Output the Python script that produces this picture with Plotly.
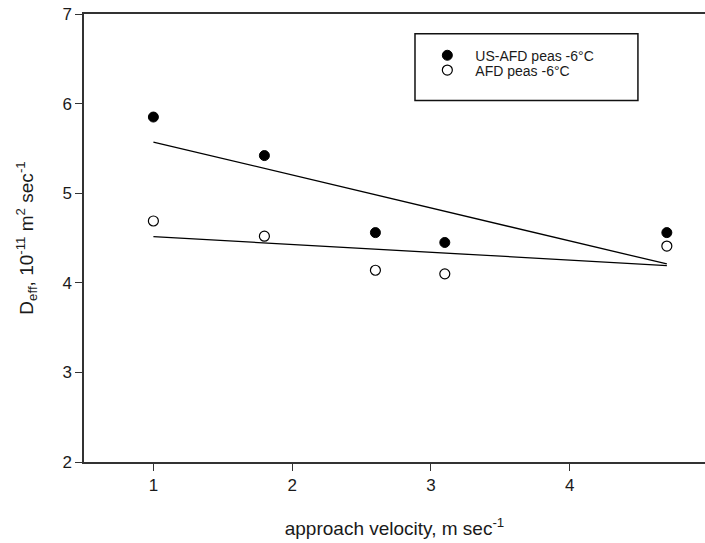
import numpy as np
import plotly.graph_objects as go

# Data
velocity = [1.0, 1.8, 2.6, 3.1, 4.7]
us_afd = [5.85, 5.42, 4.56, 4.45, 4.56]
afd = [4.69, 4.52, 4.14, 4.10, 4.41]
series_names = ["US-AFD peas -6°C", "AFD peas -6°C"]
x_ticks = [1, 2, 3, 4, 5]
y_ticks = [2, 3, 4, 5, 6, 7]

FONT = "Liberation Sans, Arial, sans-serif"
AXIS_COLOR = "#333333"
TEXT_COLOR = "#1a1a1a"


def fit_line(x, y):
    x = np.asarray(x, dtype=float)
    y = np.asarray(y, dtype=float)
    slope, intercept = np.polyfit(x, y, 1)
    xs = np.array([x.min(), x.max()])
    return xs, slope * xs + intercept


fig = go.Figure()

for yvals in (us_afd, afd):
    lx, ly = fit_line(velocity, yvals)
    fig.add_trace(go.Scatter(x=lx, y=ly, mode="lines",
                             line=dict(color="black", width=1.3),
                             showlegend=False, hoverinfo="skip"))

fig.add_trace(go.Scatter(x=velocity, y=us_afd, mode="markers", name=series_names[0],
                         legend="legend",
                         marker=dict(symbol="circle", size=10, color="black",
                                     line=dict(color="black", width=1))))
fig.add_trace(go.Scatter(x=velocity, y=afd, mode="markers", name=series_names[1],
                         legend="legend2",
                         marker=dict(symbol="circle", size=10, color="white",
                                     line=dict(color="black", width=1.2))))

legend_common = dict(xanchor="left", yanchor="middle", bgcolor="rgba(0,0,0,0)",
                     borderwidth=0, itemwidth=46,
                     font=dict(size=14, family=FONT, color=TEXT_COLOR))

fig.update_layout(
    width=705, height=543,
    margin=dict(l=84, r=0, t=14, b=81),
    paper_bgcolor="white", plot_bgcolor="white",
    font=dict(family=FONT, color=TEXT_COLOR),
    showlegend=True,
    legend=dict(x=0.54, y=0.907, **legend_common),
    legend2=dict(x=0.54, y=0.874, **legend_common),
    xaxis=dict(range=[0.5, 4.975], tickvals=x_ticks, showgrid=False, zeroline=False,
               showline=True, linecolor=AXIS_COLOR, linewidth=1.5, mirror=True,
               ticks="outside", ticklen=7, tickwidth=1.2, tickcolor=AXIS_COLOR,
               tickfont=dict(size=17, family=FONT, color=TEXT_COLOR),
               title=dict(text="approach velocity, m sec<sup>-1</sup>",
                          font=dict(size=19, family=FONT, color=TEXT_COLOR), standoff=28)),
    yaxis=dict(range=[2, 7], tickvals=y_ticks, showgrid=False, zeroline=False,
               showline=True, linecolor=AXIS_COLOR, linewidth=1.5, mirror=False,
               ticks="outside", ticklen=7, tickwidth=1.2, tickcolor=AXIS_COLOR,
               tickfont=dict(size=17, family=FONT, color=TEXT_COLOR),
               title=dict(text="D<sub>eff</sub>, 10<sup>-11</sup> m<sup>2</sup> sec<sup>-1</sup>",
                          font=dict(size=19, family=FONT, color=TEXT_COLOR), standoff=24)),
    shapes=[dict(type="rect", xref="paper", yref="paper",
                 x0=0.533, x1=0.892, y0=0.807, y1=0.956,
                 line=dict(color="#111111", width=1.5), fillcolor="rgba(0,0,0,0)")],
)

fig.write_html("out.html")
